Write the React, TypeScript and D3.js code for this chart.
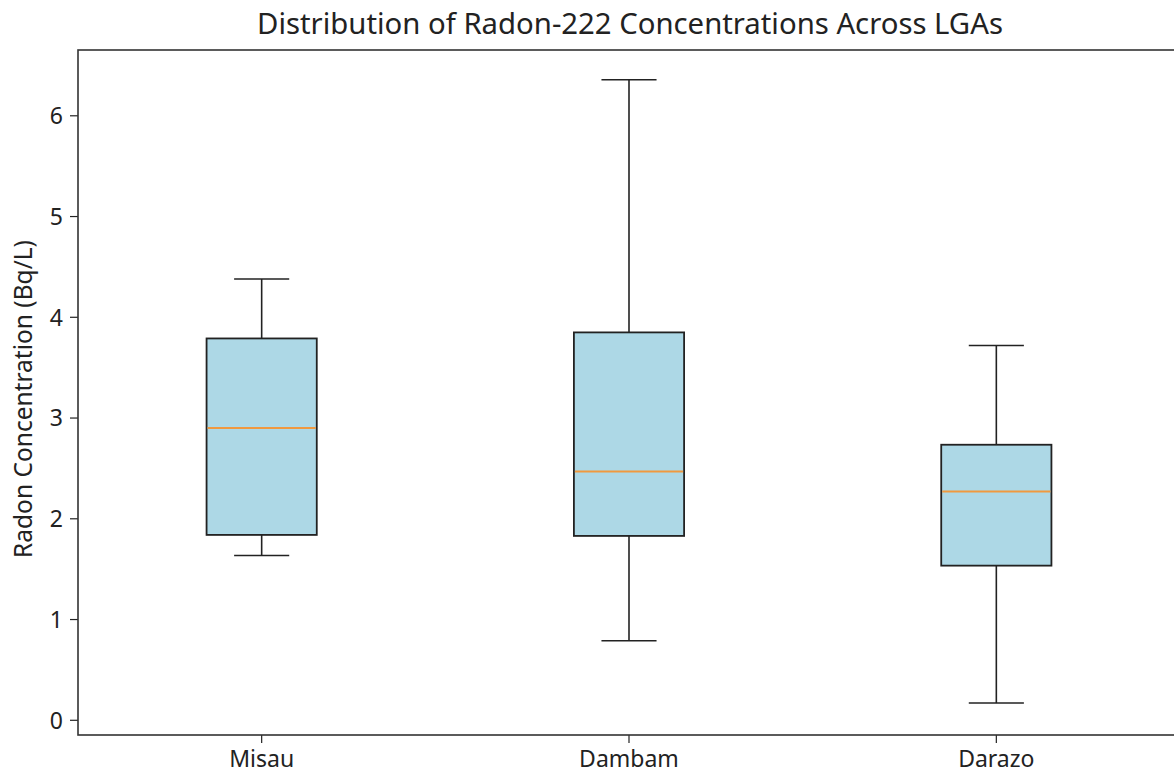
import React from "react";
import * as d3 from "d3";

const categories = ["Misau", "Dambam", "Darazo"];
const whiskerLow = [1.635, 0.79, 0.171];
const q1 = [1.84, 1.83, 1.535];
const median = [2.9, 2.47, 2.27];
const q3 = [3.79, 3.85, 2.735];
const whiskerHigh = [4.38, 6.357, 3.72];
const yTicks = [0, 1, 2, 3, 4, 5, 6];

const W = 1174;
const H = 776;
const left = 78;
const right = 1180;
const top = 50;
const bottom = 735;

export default function App() {
  const x = d3.scaleLinear().domain([0.5, 3.5]).range([left, right]);
  const y = d3.scaleLinear().domain([-0.146, 6.653]).range([bottom, top]);
  const unit = x(1) - x(0);
  const boxW = unit * 0.3;
  const capW = boxW / 2;
  const font = "'Noto Sans', 'Open Sans', sans-serif";
  return (
    <svg width={W} height={H} style={{ position: "absolute", left: 0, top: 0, background: "#fff" }} fontFamily={font}>
      <text x={630} y={34} textAnchor="middle" fontSize={29.3} fill="#222">
        Distribution of Radon-222 Concentrations Across LGAs
      </text>
      {categories.map((c, i) => {
        const cx = x(i + 1);
        return (
          <g key={c}>
            <line x1={cx} x2={cx} y1={y(q3[i])} y2={y(whiskerHigh[i])} stroke="#222" strokeWidth={1.6} />
            <line x1={cx} x2={cx} y1={y(q1[i])} y2={y(whiskerLow[i])} stroke="#222" strokeWidth={1.6} />
            <line x1={cx - capW / 2} x2={cx + capW / 2} y1={y(whiskerHigh[i])} y2={y(whiskerHigh[i])} stroke="#222" strokeWidth={1.6} />
            <line x1={cx - capW / 2} x2={cx + capW / 2} y1={y(whiskerLow[i])} y2={y(whiskerLow[i])} stroke="#222" strokeWidth={1.6} />
            <rect x={cx - boxW / 2} y={y(q3[i])} width={boxW} height={y(q1[i]) - y(q3[i])} fill="#add8e6" stroke="#222" strokeWidth={1.8} />
            <line x1={cx - boxW / 2 + 1} x2={cx + boxW / 2 - 1} y1={y(median[i])} y2={y(median[i])} stroke="#f0993f" strokeWidth={2} />
            <line x1={cx} x2={cx} y1={bottom} y2={bottom + 8} stroke="#222" strokeWidth={1.2} />
            <text x={cx} y={767} textAnchor="middle" fontSize={23} fill="#222">{c}</text>
          </g>
        );
      })}
      {yTicks.map((t) => (
        <g key={t}>
          <line x1={left - 8} x2={left} y1={y(t)} y2={y(t)} stroke="#222" strokeWidth={1.2} />
          <text x={left - 15} y={y(t)} dy="0.36em" textAnchor="end" fontSize={23} fill="#222">{t}</text>
        </g>
      ))}
      <rect x={left} y={top} width={right - left} height={bottom - top} fill="none" stroke="#333" strokeWidth={1.6} />
      <text transform={`translate(32,399) rotate(-90)`} textAnchor="middle" fontSize={24.5} fill="#222">
        Radon Concentration (Bq/L)
      </text>
    </svg>
  );
}
